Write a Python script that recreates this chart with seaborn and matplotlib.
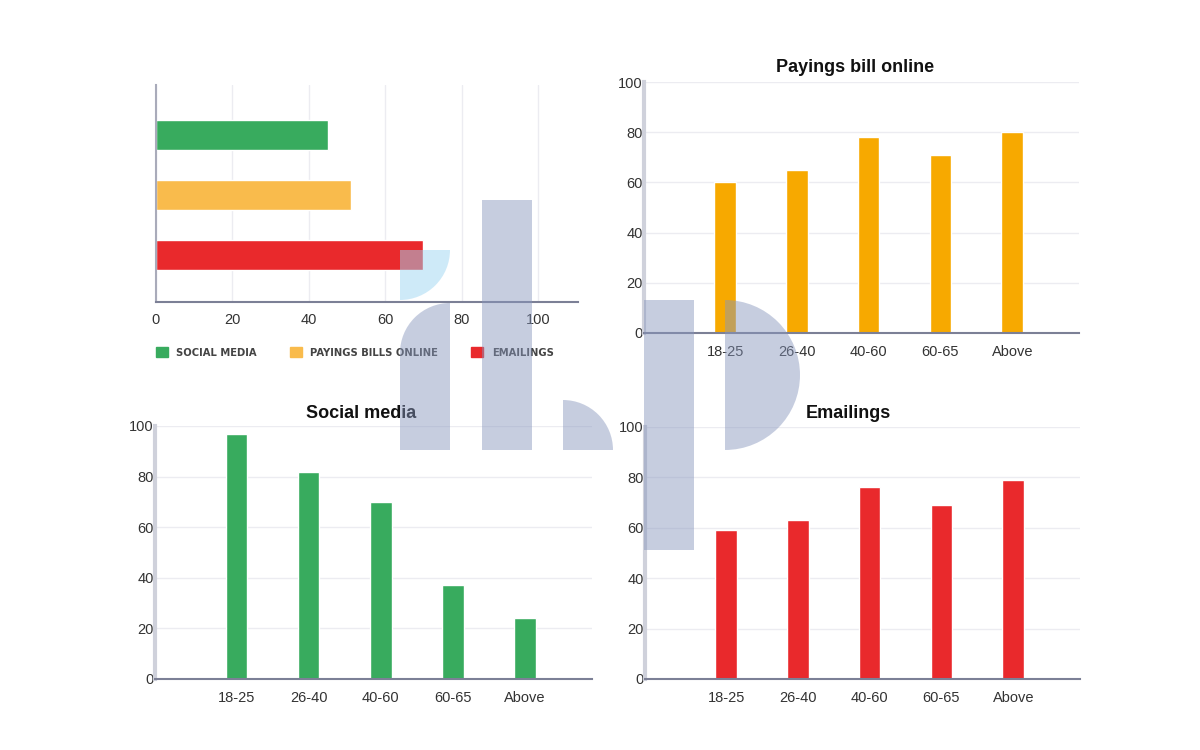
"""
Internet use by age group - four panel bar chart
"""

import matplotlib
matplotlib.use("Agg")
import matplotlib.pyplot as plt
import seaborn as sns
from matplotlib.patches import Rectangle, Wedge, Patch

# ========== DATA ==========
activities = ["Social media", "Payings bills online", "Emailings"]
activity_totals = [45, 51, 70]
legend_labels = ["SOCIAL MEDIA", "PAYINGS BILLS ONLINE", "EMAILINGS"]

age_groups = ["18-25", "26-40", "40-60", "60-65", "Above"]
social_media = [97, 82, 70, 37, 24]
paying_bills = [60, 65, 78, 71, 80]
emailings = [59, 63, 76, 69, 79]

# ========== STYLE ==========
sns.set_theme(style="white")
plt.rcParams["font.family"] = ["Liberation Sans", "DejaVu Sans"]

GREEN = "#38ab5e"
ORANGE = "#f7a900"
ORANGE_LIGHT = "#f9bb4c"
RED = "#e9292c"
GRID = "#ececf1"
TICK_COLOR = "#333333"

fig = plt.figure(figsize=(12, 7.5), dpi=100)


def style_vertical(ax, title, title_x, title_y):
    """Common look for the three age-group panels"""
    ax.set_ylim(0, 100)
    ax.set_xlim(-1.13, 4.93)
    ax.set_yticks(range(0, 101, 20))
    ax.yaxis.grid(True, color=GRID, lw=1)
    ax.xaxis.grid(False)
    ax.set_axisbelow(True)
    ax.set_xlabel("")
    ax.set_ylabel("")
    for side in ["top", "right"]:
        ax.spines[side].set_visible(False)
    ax.spines["left"].set_color("#cfd1db")
    ax.spines["left"].set_linewidth(3)
    ax.spines["bottom"].set_color("#7c8096")
    ax.spines["bottom"].set_linewidth(1.5)
    ax.tick_params(axis="both", length=0, labelsize=10.5, colors=TICK_COLOR)
    ax.tick_params(axis="y", pad=1)
    ax.tick_params(axis="x", pad=9)
    fig.text(title_x / 1200, 1 - title_y / 750, title, ha="center", va="center",
             fontsize=13, fontweight="bold", color="#111111")


# ------ Overview (horizontal bars) ------
ax0 = fig.add_axes([156 / 1200, 1 - 302 / 750, 422 / 1200, 217 / 750])
sns.barplot(x=activity_totals, y=activities, hue=activities,
            palette=[GREEN, ORANGE_LIGHT, RED], orient="h", width=0.5,
            legend=False, saturation=1, ax=ax0)
ax0.set_xlim(0, 110.5)
ax0.set_ylim(2.78, -0.83)
ax0.set_xticks(range(0, 101, 20))
ax0.set_yticks([])
ax0.xaxis.grid(True, color=GRID, lw=1)
ax0.set_axisbelow(True)
ax0.set_xlabel("")
ax0.set_ylabel("")
for side in ["top", "right"]:
    ax0.spines[side].set_visible(False)
ax0.spines["left"].set_color("#a9abba")
ax0.spines["left"].set_linewidth(1.5)
ax0.spines["bottom"].set_color("#7c8096")
ax0.spines["bottom"].set_linewidth(1.5)
ax0.tick_params(axis="x", length=0, labelsize=10.5, colors=TICK_COLOR, pad=8)

handles = [Patch(facecolor=c, edgecolor=c) for c in [GREEN, ORANGE_LIGHT, RED]]
ax0.legend(handles, legend_labels, ncol=3, frameon=False,
           loc="upper left", bbox_to_anchor=(-0.01, -0.19),
           prop={"family": "DejaVu Sans", "size": 7.2, "weight": "bold"},
           labelcolor="#444444",
           handlelength=1.2, handleheight=1.2, handletextpad=0.85,
           columnspacing=3.3, borderaxespad=0)

# ------ Payings bill online ------
ax1 = fig.add_axes([644 / 1200, 1 - 333 / 750, 435 / 1200, 251 / 750])
sns.barplot(x=age_groups, y=paying_bills, color=ORANGE, width=0.3,
            saturation=1, ax=ax1)
style_vertical(ax1, "Payings bill online", 855, 67)

# ------ Social media ------
ax2 = fig.add_axes([155 / 1200, 1 - 679 / 750, 437 / 1200, 253 / 750])
sns.barplot(x=age_groups, y=social_media, color=GREEN, width=0.3,
            saturation=1, ax=ax2)
style_vertical(ax2, "Social media", 361, 413)

# ------ Emailings ------
ax3 = fig.add_axes([645 / 1200, 1 - 679 / 750, 435 / 1200, 252 / 750])
sns.barplot(x=age_groups, y=emailings, color=RED, width=0.3,
            saturation=1, ax=ax3)
style_vertical(ax3, "Emailings", 848, 413)

# ------ Watermark (logo shapes, in inches from bottom-left) ------
WM = "#8796bd"
tr = fig.dpi_scale_trans
shapes = [
    Wedge((4.0, 5.0), 0.5, 270, 360, color="#9fd6f2", alpha=0.5),
    Rectangle((4.0, 3.0), 0.5, 0.97, color=WM, alpha=0.47),
    Wedge((4.5, 3.97), 0.5, 90, 180, color=WM, alpha=0.47),
    Rectangle((4.815, 3.0), 0.5, 2.5, color=WM, alpha=0.47),
    Wedge((5.63, 3.0), 0.5, 0, 90, color=WM, alpha=0.47),
    Rectangle((6.44, 2.0), 0.5, 2.5, color=WM, alpha=0.47),
    Wedge((7.25, 3.75), 0.75, -90, 90, color=WM, alpha=0.47),
]
for s in shapes:
    s.set_transform(tr)
    s.set_linewidth(0)
    s.set_zorder(10)
    fig.add_artist(s)

fig.savefig("out.png", dpi=100, facecolor="white")
